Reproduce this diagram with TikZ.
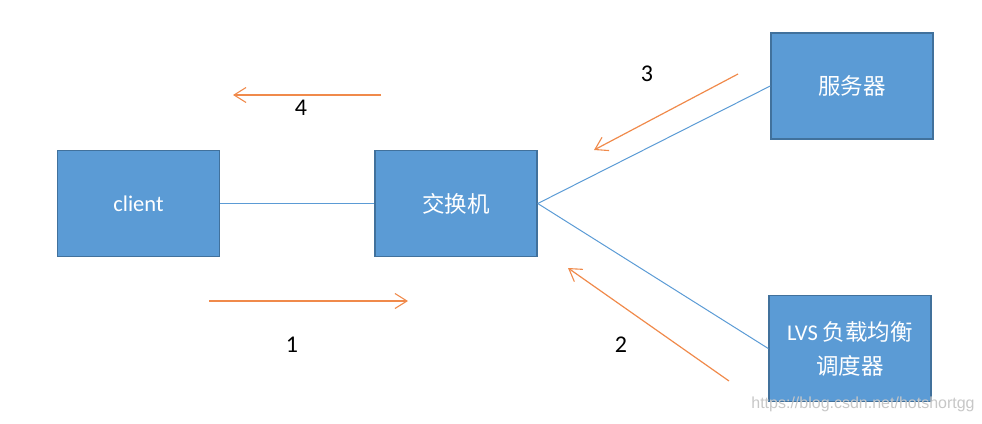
\documentclass[tikz,border=0pt]{standalone}
\usepackage{fontspec}
\setmainfont{Carlito}
\newfontfamily\cjk{Noto Sans CJK SC}
\newfontfamily\wm{Liberation Sans}
\usetikzlibrary{arrows.meta}
\definecolor{boxfill}{HTML}{5B9BD5}
\definecolor{boxline}{HTML}{41719C}
\definecolor{arr}{HTML}{F08A4B}
\begin{document}
\begin{tikzpicture}[x=1pt,y=-1pt,
  box/.style={draw=boxline, line width=1.5pt, fill=boxfill, text=white,
    minimum width=162pt, minimum height=106pt, inner sep=0pt, align=center,
    font=\fontsize{22.5}{34}\selectfont},
  link/.style={draw=boxfill, line width=1pt},
  flow/.style={draw=arr, line width=1.2pt, -{Straight Barb[length=12pt,width=15pt,line width=1.1pt]}},
  lbl/.style={font=\fontsize{24}{26}\selectfont, text=black, inner sep=0pt}]
\useasboundingbox (0,0) rectangle (982,423);
\node[box] (client) at (138.5,203.5) {client};
\node[box] (switch) at (456,203.5) {\cjk 交换机};
\node[box] (server) at (852,86) {\cjk 服务器};
\node[box] (lvs) at (850,348.5) {LVS {\cjk 负载均衡}\\{\cjk 调度器}};
\draw[link] (client.east) -- (switch.east -| switch.west);
\draw[link] (switch.east) -- (server.west);
\draw[link] (switch.east) -- (lvs.west);
\coordinate (a4s) at (381,95); \coordinate (a4e) at (233,95);
\coordinate (a1s) at (209,301); \coordinate (a1e) at (408,301);
\coordinate (a3s) at (738,74); \coordinate (a3e) at (594,150);
\coordinate (a2s) at (729,381); \coordinate (a2e) at (568,268);
\draw[flow] (a4s) -- (a4e);
\draw[flow] (a1s) -- (a1e);
\draw[flow] (a3s) -- (a3e);
\draw[flow] (a2s) -- (a2e);
\node[lbl] (l4) at (301,108) {4};
\node[lbl] (l1) at (292,345) {1};
\node[lbl] (l3) at (647,74) {3};
\node[lbl] (l2) at (621,345) {2};
\node[font=\wm\fontsize{16}{18}\selectfont, text=black!22, inner sep=0pt] (wm) at (863,404) {https://blog.csdn.net/hotshortgg};
\end{tikzpicture}
\end{document}
